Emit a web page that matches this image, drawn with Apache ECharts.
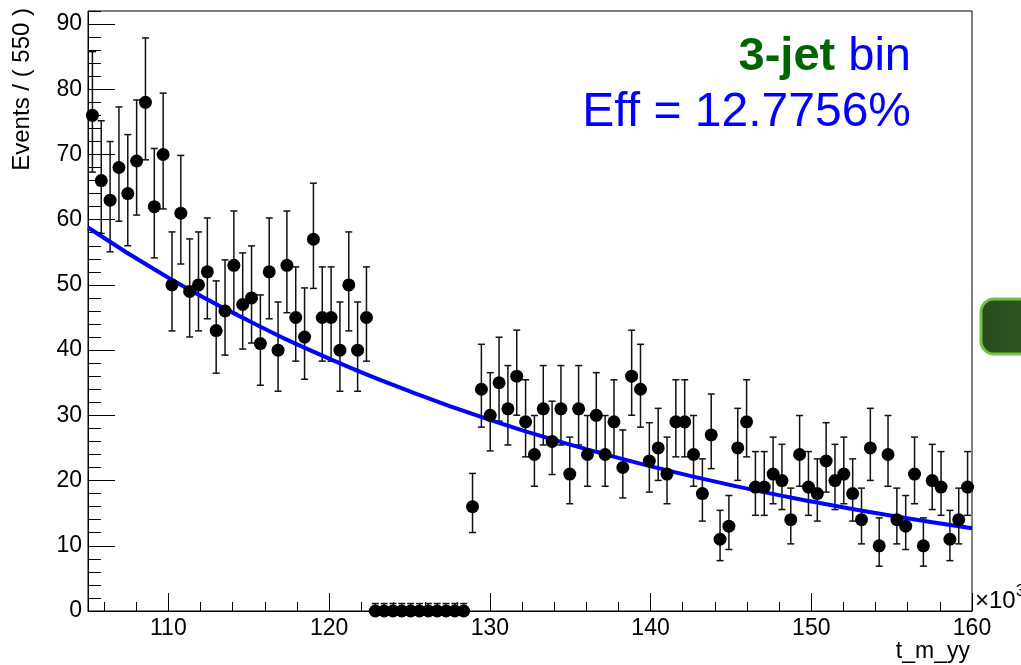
<!DOCTYPE html>
<html>
<head>
<meta charset="utf-8">
<title>t_m_yy - 3-jet bin</title>
<script src="https://cdn.jsdelivr.net/npm/echarts@6.0.0/dist/echarts.min.js"></script>
<style>
  html, body { margin: 0; padding: 0; background: #fff; }
  #chart { width: 1021px; height: 665px; }
</style>
</head>
<body>
<div id="chart"></div>
<script>
// t_m_yy binning (x10^3), 100 bins of 550
const xMin = 105
const xMax = 160
const binWidth = 0.55

// events per bin (signal region blinded -> 0)
const counts = [
  76, 66, 63, 68, 64, 69, 78, 62, 70, 50,
  61, 49, 50, 52, 43, 46, 53, 47, 48, 41,
  52, 40, 53, 45, 42, 57, 45, 45, 40, 50,
  40, 45, 0, 0, 0, 0, 0, 0, 0, 0,
  0, 0, 0, 16, 34, 30, 35, 31, 36, 29,
  24, 31, 26, 31, 21, 31, 24, 30, 24, 29,
  22, 36, 34, 23, 25, 21, 29, 29, 24, 18,
  27, 11, 13, 25, 29, 19, 19, 21, 20, 14,
  24, 19, 18, 23, 20, 21, 18, 14, 25, 10,
  24, 14, 13, 21, 10, 20, 19, 11, 14, 19
]

// background fit curve, read at every 5 (x10^3)
const fitX = [105, 110, 115, 120, 125, 130, 135, 140, 145, 150, 155, 160]
const fitY = [58.8, 51.1, 44.5, 38.7, 33.7, 29.3, 25.5, 22.2, 19.3, 16.8, 14.6, 12.7]

// axis ticks
const xMajorTicks = [110, 120, 130, 140, 150, 160]
const xMinorTicks = [106, 108, 112, 114, 116, 118, 122, 124, 126, 128, 132, 134, 136, 138,
  142, 144, 146, 148, 152, 154, 156, 158]
const yMajorTicks = [0, 10, 20, 30, 40, 50, 60, 70, 80, 90]
const yMinorTicks = [2, 4, 6, 8, 12, 14, 16, 18, 22, 24, 26, 28, 32, 34, 36, 38, 42, 44, 46, 48,
  52, 54, 56, 58, 62, 64, 66, 68, 72, 74, 76, 78, 82, 84, 86, 88, 92]
const yMax = 92

const FONT = 'Liberation Sans, Arial, sans-serif'

// poisson interval like RooHist draws it
const errLow = (n) => n > 0 ? n - Math.sqrt(n - 0.25) : 0
const errHigh = (n) => n > 0 ? n + Math.sqrt(n + 0.75) + 1 : 1.147

const points = counts.map((n, i) => [xMin + binWidth * (i + 0.5), n])
const errBars = counts.map((n, i) => [xMin + binWidth * (i + 0.5), errLow(n), errHigh(n)])
const fitData = fitX.map((x, i) => [x, fitY[i]])

const chart = echarts.init(document.getElementById('chart'))

const minorAxis = (extra) => Object.assign({
  type: 'value',
  axisLine: { show: false },
  axisLabel: { show: false },
  splitLine: { show: false }
}, extra)

const option = {
  animation: false,
  backgroundColor: '#fff',
  grid: {
    left: 88, right: 49, top: 11, bottom: 54,
    show: true, borderColor: '#000', borderWidth: 1, backgroundColor: 'transparent'
  },
  xAxis: [
    {
      type: 'value', min: xMin, max: xMax,
      axisLine: { show: true, lineStyle: { color: '#000', width: 1 } },
      axisTick: { show: true, inside: true, length: 18, customValues: xMajorTicks, lineStyle: { color: '#000' } },
      axisLabel: { customValues: xMajorTicks, color: '#000', fontSize: 23, fontFamily: FONT, margin: 6 },
      splitLine: { show: false }
    },
    minorAxis({
      min: xMin, max: xMax, position: 'bottom',
      axisTick: { show: true, inside: true, length: 9, customValues: xMinorTicks, lineStyle: { color: '#000' } }
    })
  ],
  yAxis: [
    {
      type: 'value', min: 0, max: yMax,
      axisLine: { show: true, lineStyle: { color: '#000', width: 1 } },
      axisTick: { show: true, inside: true, length: 27, customValues: yMajorTicks, lineStyle: { color: '#000' } },
      axisLabel: { customValues: yMajorTicks, color: '#000', fontSize: 23, fontFamily: FONT, margin: 6 },
      splitLine: { show: false }
    },
    minorAxis({
      min: 0, max: yMax, position: 'left',
      axisTick: { show: true, inside: true, length: 13, customValues: yMinorTicks, lineStyle: { color: '#000' } }
    })
  ],
  series: [
    {
      // error bars
      type: 'custom',
      clip: false,
      z: 2,
      encode: { x: 0, y: [1, 2] },
      data: errBars,
      renderItem: (params, api) => {
        const x = api.value(0)
        const lo = api.coord([x, api.value(1)])
        const hi = api.coord([x, api.value(2)])
        const cap = 3.5
        const style = { stroke: '#111', lineWidth: 1.5 }
        return {
          type: 'group',
          children: [
            { type: 'line', shape: { x1: lo[0], y1: lo[1], x2: hi[0], y2: hi[1] }, style },
            { type: 'line', shape: { x1: hi[0] - cap, y1: hi[1], x2: hi[0] + cap, y2: hi[1] }, style },
            { type: 'line', shape: { x1: lo[0] - cap, y1: lo[1], x2: lo[0] + cap, y2: lo[1] }, style }
          ]
        }
      }
    },
    {
      // fit
      type: 'line',
      data: fitData,
      smooth: true,
      showSymbol: false,
      z: 3,
      lineStyle: { color: '#0000ff', width: 4 }
    },
    {
      // data points
      type: 'scatter',
      data: points,
      symbol: 'circle',
      symbolSize: 13,
      clip: false,
      z: 4,
      itemStyle: { color: '#000', opacity: 1 }
    }
  ],
  graphic: [
    {
      type: 'text', x: 22, y: 8, rotation: Math.PI / 2,
      style: { text: 'Events / ( 550 )', font: '24px ' + FONT, fill: '#000', align: 'right', verticalAlign: 'middle' }
    },
    {
      type: 'text', x: 970, y: 652,
      style: { text: 't_m_yy', font: '23px ' + FONT, fill: '#000', align: 'right', verticalAlign: 'middle' }
    },
    {
      type: 'text', x: 975, y: 601,
      style: { text: '×10', font: '24px ' + FONT, fill: '#000', align: 'left', verticalAlign: 'middle' }
    },
    {
      type: 'text', x: 1016, y: 592,
      style: { text: '3', font: '16px ' + FONT, fill: '#000', align: 'left', verticalAlign: 'middle' }
    },
    {
      type: 'text', x: 911, y: 57,
      style: {
        text: '{g|3-jet}{b| bin}',
        align: 'right', verticalAlign: 'middle',
        rich: {
          g: { fontSize: 47, fontWeight: 'bold', fontFamily: FONT, fill: '#006400' },
          b: { fontSize: 47, fontFamily: FONT, fill: '#0000ff' }
        }
      }
    },
    {
      type: 'text', x: 911, y: 113,
      style: { text: 'Eff = 12.7756%', font: '48px ' + FONT, fill: '#0000ff', align: 'right', verticalAlign: 'middle' }
    },
    {
      type: 'rect', x: 981, y: 299, z: 10,
      shape: { width: 60, height: 55, r: 13 },
      style: {
        fill: new echarts.graphic.LinearGradient(0, 0, 1, 0, [
          { offset: 0, color: '#294a20' },
          { offset: 1, color: '#2f5a22' }
        ]),
        stroke: '#78c044', lineWidth: 3
      }
    }
  ]
}

chart.setOption(option)
</script>
</body>
</html>
